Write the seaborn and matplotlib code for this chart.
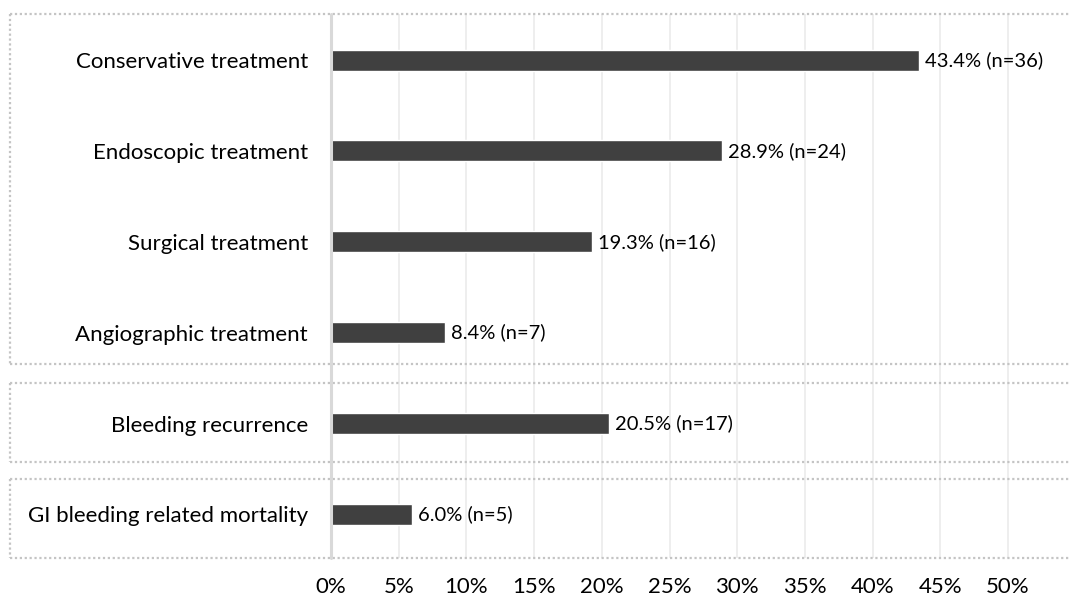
import matplotlib
matplotlib.use('Agg')
import matplotlib.pyplot as plt
import matplotlib.transforms as mtransforms
import seaborn as sns
import pandas as pd

# data
categories = ['Conservative treatment', 'Endoscopic treatment', 'Surgical treatment',
              'Angiographic treatment', 'Bleeding recurrence', 'GI bleeding related mortality']
percent = [43.4, 28.9, 19.3, 8.4, 20.5, 6.0]
counts = [36, 24, 16, 7, 17, 5]
xticks = [0, 5, 10, 15, 20, 25, 30, 35, 40, 45, 50]

df = pd.DataFrame({'category': categories, 'percent': percent, 'n': counts})

sns.set_theme(style='white')
plt.rcParams['font.family'] = ['Lato', 'DejaVu Sans']

fig = plt.figure(figsize=(10.69, 6.01), dpi=100)
ax = fig.add_axes([0.3096, 0.0715, 0.6904, 0.9052])

sns.barplot(data=df, x='percent', y='category', orient='h', color='#404040',
            saturation=1, width=0.23, ax=ax, zorder=3)

# grid
for t in xticks[1:]:
    ax.axvline(t, color='#ebebeb', lw=1.2, zorder=0)
ax.axvline(0, color='#d9d9d9', lw=2.2, zorder=4, clip_on=False)

ax.set_xlim(0, 54.5)
ax.set_ylim(5.48, -0.507)
ax.set_xticks(xticks)
ax.set_xticklabels([f'{t}%' for t in xticks], fontsize=16, color='black')
ax.tick_params(axis='x', length=0, pad=14)
ax.tick_params(axis='y', length=0, pad=16.5, labelsize=16, labelcolor='black')
ax.set_xlabel('')
ax.set_ylabel('')
for s in ax.spines.values():
    s.set_visible(False)

# value labels
for i, (p, n) in enumerate(zip(percent, counts)):
    ax.text(p + 0.45, i, f'{p:.1f}% (n={n})', va='center', ha='left',
            fontsize=14.5, color='black', zorder=5)

# dotted group boxes
tr = mtransforms.blended_transform_factory(fig.transFigure, ax.transData)
x_left = 10 / 1069
boxes = [(-0.507, 3.34), (3.55, 4.42), (4.61, 5.48)]
dot = dict(color='#c4c4c4', lw=1.6, ls=(0, (1, 1.2)), transform=tr, clip_on=False)
for top, bot in boxes:
    ax.plot([x_left, 1.0], [top, top], **dot)
    ax.plot([x_left, 1.0], [bot, bot], **dot)
    ax.plot([x_left, x_left], [top, bot], **dot)

fig.savefig('out.png', dpi=100)
